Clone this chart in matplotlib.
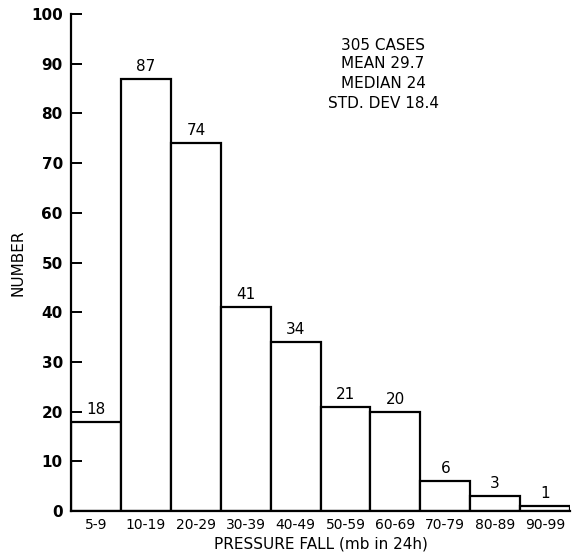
import numpy as np
import matplotlib.pyplot as plt

categories = ['5-9', '10-19', '20-29', '30-39', '40-49', '50-59', '60-69',
              '70-79', '80-89', '90-99']
counts = [18, 87, 74, 41, 34, 21, 20, 6, 3, 1]
stats_text = ['305 CASES', 'MEAN 29.7', 'MEDIAN 24', 'STD. DEV 18.4']

fig = plt.figure(figsize=(5.74, 5.55), dpi=100)
ax = fig.add_axes([0.124, 0.079, 0.869, 0.896])

x = np.arange(len(categories))
ax.bar(x, counts, width=1.0, color='white', edgecolor='black', linewidth=1.6)
for xi, c in zip(x, counts):
    ax.text(xi, c + 1, str(c), ha='center', va='bottom', fontsize=11)

ax.set_xlim(-0.5, len(categories) - 0.5)
ax.set_ylim(0, 100)
ax.set_yticks(np.arange(0, 101, 10))
ax.set_xticks(x)
ax.set_xticklabels(categories, fontsize=10)
ax.tick_params(axis='y', direction='in', length=8, width=1.4, labelsize=11, pad=6)
for lbl in ax.get_yticklabels():
    lbl.set_fontweight('bold')
ax.tick_params(axis='x', length=0, pad=5)
for s in ['top', 'right']:
    ax.spines[s].set_visible(False)
ax.spines['left'].set_linewidth(1.6)
ax.spines['bottom'].set_linewidth(1.6)

ax.set_ylabel('NUMBER', fontsize=11, labelpad=4)
ax.set_xlabel('PRESSURE FALL (mb in 24h)', fontsize=11, labelpad=3)

ys = [45, 64, 84, 103]
for t, y in zip(stats_text, ys):
    fig.text(383 / 574, 1 - y / 555, t, ha='center', va='center', fontsize=11)

fig.savefig('out.png', dpi=100)
